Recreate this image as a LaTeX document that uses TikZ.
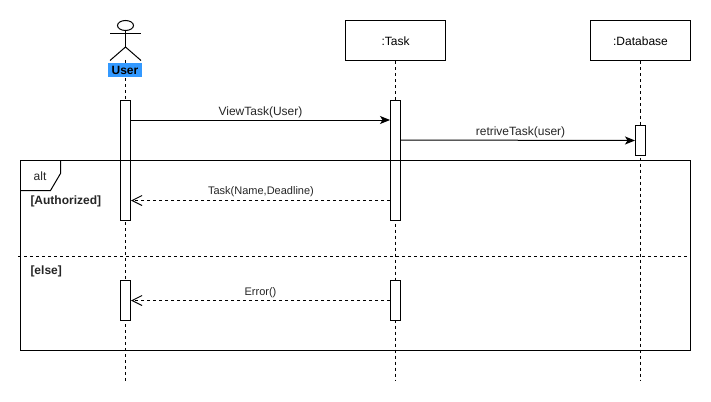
\documentclass[tikz,border=0pt]{standalone}
\usepackage{fontspec}
\setmainfont{Liberation Sans}
\usetikzlibrary{arrows.meta,shapes.geometric}
\definecolor{userblue}{RGB}{51,153,255}
\tikzset{
    objbox/.style={draw,fill=white,minimum width=100pt,minimum height=40pt,inner sep=0pt,font=\fontsize{12}{14}\selectfont},
    actbar/.style={draw,fill=white,minimum width=10pt,inner sep=0pt},
    lifeline/.style={dash pattern=on 3pt off 3pt},
    callarrow/.style={-{Stealth[length=10pt,width=8pt,inset=2.5pt]}},
    backarrow/.style={dash pattern=on 3pt off 3pt,-{Straight Barb[length=10pt,width=10pt]}},
    msglabel/.style={text=black!85,inner sep=0pt,font=\fontsize{12}{14}\selectfont},
    smalllabel/.style={text=black!85,inner sep=0pt,font=\fontsize{11}{13}\selectfont},
    guardlabel/.style={text=black!85,inner sep=0pt,anchor=west,font=\fontsize{12}{14}\selectfont\bfseries}
}
\begin{document}
\begin{tikzpicture}[x=1pt,y=-1pt,line width=1pt]
        \fill[white] (0,0) rectangle (711,401);
        \useasboundingbox (0,0) rectangle (711,401);

        \node (task) at (395.5,41)[objbox]{:Task};
        \node (database) at (640.5,41)[objbox]{:Database};
        \coordinate (userfoot) at (125.5,60);
        \coordinate (lineend) at (0,381);

        \foreach \obj in {userfoot,task.south,database.south}
            {
                \draw[lifeline] (\obj) -- (\obj |- lineend);
            }

        \node (userhead) at (125.5,25.5)[draw,ellipse,minimum width=16pt,minimum height=10pt,inner sep=0pt]{};
        \coordinate (userhip) at (125.5,47);
        \draw (userhead.south) -- (userhip);
        \draw (110,33.5) -- (141,33.5);
        \draw (110,60.5) -- (userhip) -- (141,60.5);
        \node (user) at (125,70)[fill=userblue,minimum width=34pt,minimum height=14pt,inner sep=0pt,font=\fontsize{12}{14}\selectfont\bfseries]{User};

        \node (userbara) at (125.5,160.5)[actbar,minimum height=120pt]{};
        \node (userbarb) at (125.5,300.5)[actbar,minimum height=40pt]{};
        \node (taskbara) at (395.5,160.5)[actbar,minimum height=120pt]{};
        \node (taskbarb) at (395.5,300.5)[actbar,minimum height=40pt]{};
        \node (databar) at (640.5,140.5)[actbar,minimum height=30pt]{};

        \node (altframe) at (355.5,255.5)[draw,minimum width=670pt,minimum height=190pt,inner sep=0pt]{};
        \coordinate (tabtop) at (60.5,160.5);
        \coordinate (tableft) at (20.5,190.5);
        \draw (tabtop) -- (60.5,173.5) -- (50.5,190.5) -- (tableft);
        \coordinate (sepleft) at (18,256.5);
        \coordinate (sepright) at (690.5,256.5);
        \draw[lifeline] (sepleft) -- (sepright);

        \draw[callarrow] ([yshift=-20pt]userbara.north east) -- ([yshift=-20pt]taskbara.north west);
        \draw[callarrow] ([yshift=-40pt]taskbara.north east) -- (databar.west);
        \draw[backarrow] ([yshift=-40pt]taskbara.west) -- ([yshift=-40pt]userbara.east);
        \draw[backarrow] (taskbarb.west) -- (userbarb.east);

        \node (alttext) at (40,176)[msglabel]{alt};
        \node (authtext) at (30,201)[guardlabel]{[Authorized]};
        \node (elsetext) at (30,271)[guardlabel]{[else]};
        \node (viewtext) at (260.5,112)[msglabel]{ViewTask(User)};
        \node (retrivetext) at (520.5,132)[msglabel]{retriveTask(user)};
        \node (tasktext) at (261,192)[smalllabel]{Task(Name,Deadline)};
        \node (errortext) at (260.5,292.5)[smalllabel]{Error()};
    \end{tikzpicture}
\end{document}
